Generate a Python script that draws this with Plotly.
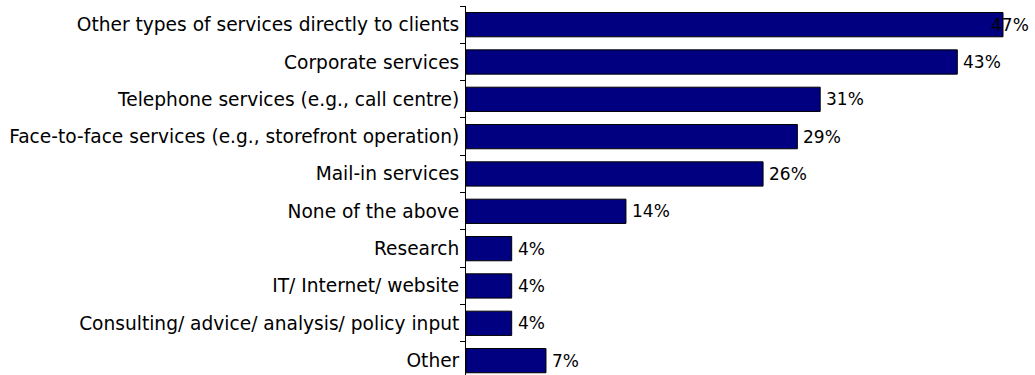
import plotly.graph_objects as go

categories = [
    "Other types of services directly to clients",
    "Corporate services",
    "Telephone services (e.g., call centre)",
    "Face-to-face services (e.g., storefront operation)",
    "Mail-in services",
    "None of the above",
    "Research",
    "IT/ Internet/ website",
    "Consulting/ advice/ analysis/ policy input",
    "Other",
]
values = [47, 43, 31, 29, 26, 14, 4, 4, 4, 7]
labels = [f"{v}%" for v in values]

FONT = "DejaVu Sans, Arial, sans-serif"
X_MAX = 49.8

fig = go.Figure(
    go.Bar(
        x=values,
        y=categories,
        orientation="h",
        width=0.65,
        marker=dict(color="#000080", line=dict(color="#000000", width=1)),
        hoverinfo="skip",
    )
)

# value labels to the right of each bar; a label that would run past the
# right edge is pulled back inside the figure
for cat, v, lab in zip(categories, values, labels):
    if v + 3.5 > X_MAX:
        fig.add_annotation(x=1, xref="paper", y=cat, yref="y", text=lab,
                           showarrow=False, xanchor="right", xshift=-4,
                           font=dict(family=FONT, size=17, color="#000000"))
    else:
        fig.add_annotation(x=v, xref="x", y=cat, yref="y", text=lab,
                           showarrow=False, xanchor="left", xshift=4,
                           font=dict(family=FONT, size=17, color="#000000"))

fig.update_layout(
    width=1035,
    height=375,
    margin=dict(l=466, r=0, t=6, b=0),
    paper_bgcolor="white",
    plot_bgcolor="white",
    showlegend=False,
    font=dict(family=FONT, size=18.6, color="#000000"),
    xaxis=dict(range=[0, X_MAX], visible=False, fixedrange=True),
    yaxis=dict(
        type="category",
        categoryorder="array",
        categoryarray=categories,
        range=[9.385, -0.5],
        showline=True,
        linecolor="#000000",
        linewidth=1,
        ticks="outside",
        tickson="boundaries",
        ticklen=5,
        tickcolor="#000000",
        showgrid=False,
        zeroline=False,
        ticklabelstandoff=2,
        fixedrange=True,
    ),
)

fig.write_html("out.html")
